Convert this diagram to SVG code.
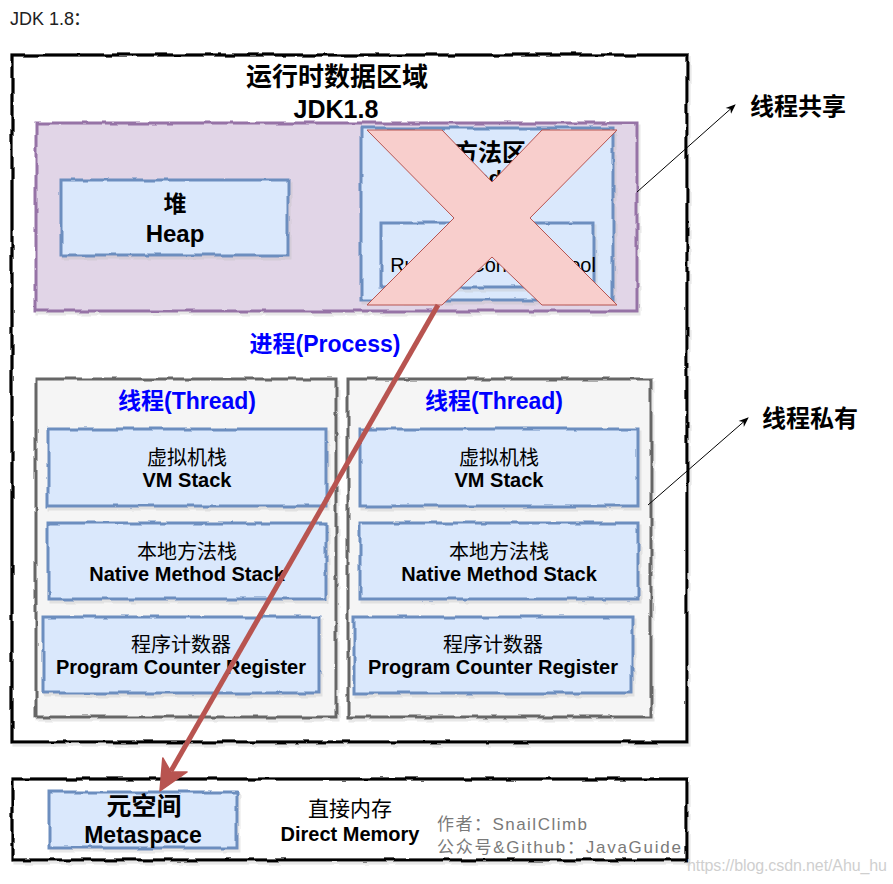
<svg xmlns="http://www.w3.org/2000/svg" width="893" height="884" viewBox="0 0 893 884">
<style>
text{font-family:"Liberation Sans","Noto Sans CJK SC",sans-serif;fill:#000;text-anchor:middle}
.b{font-weight:bold}
.blue{fill:#0000ff;font-weight:bold;font-size:23px}
.box{fill:#dae8fc;stroke:#6c8ebf;stroke-width:3}
.thr{fill:#f5f5f5;stroke:#666666;stroke-width:3}
.zh{font-size:20px}
.en{font-size:20px;font-weight:bold}
.note{font-size:17px;fill:#7a7a7a;text-anchor:start}
</style>
<defs>
<filter id="sk" x="-5%" y="-5%" width="112%" height="115%">
<feTurbulence type="fractalNoise" baseFrequency="0.05" numOctaves="2" seed="4" result="n"/>
<feDisplacementMap in="SourceGraphic" in2="n" scale="4" xChannelSelector="R" yChannelSelector="G" result="d"/>
<feOffset in="d" dx="2" dy="3" result="o"/>
<feColorMatrix in="o" type="matrix" values="0 0 0 0 0.5 0 0 0 0 0.5 0 0 0 0 0.5 0 0 0 0.35 0" result="s"/>
<feMerge><feMergeNode in="s"/><feMergeNode in="d"/></feMerge>
</filter>
<marker id="ah" markerWidth="10" markerHeight="10" refX="9" refY="5" orient="auto" markerUnits="userSpaceOnUse">
<path d="M0,1 L10,5 L0,9 L3,5 Z" fill="#000"/>
</marker>
</defs>

<text x="10" y="25" style="font-size:18px;text-anchor:start;fill:#222">JDK 1.8</text>
<text x="82" y="25" style="font-size:18px;fill:#222">：</text>

<g id="runtime-area">
<rect x="12" y="55" width="675" height="687" fill="#fff" stroke="#000" stroke-width="3.2" filter="url(#sk)"/>
<text class="b" x="337" y="86" style="font-size:26px">运行时数据区域</text>
<text class="b" x="336" y="118" style="font-size:25px">JDK1.8</text>
</g>

<g id="shared-area">
<rect x="36" y="123" width="601" height="188" fill="#e1d5e7" stroke="#9673a6" stroke-width="3" filter="url(#sk)"/>
</g>

<g id="heap">
<rect class="box" x="61" y="180" width="227" height="75" filter="url(#sk)"/>
<text class="b" x="175" y="212" style="font-size:23px">堆</text>
<text class="b" x="175" y="242" style="font-size:24px">Heap</text>
</g>

<g id="method-area">
<rect class="box" x="361" y="128" width="252" height="172" filter="url(#sk)"/>
<text class="b" x="490" y="161" style="font-size:24px">方法区</text>
<text class="b" x="490" y="186" style="font-size:22px">Method Area</text>
<rect class="box" x="381" y="223" width="213" height="64" filter="url(#sk)"/>
<text x="493" y="272" style="font-size:20px">Runtime Constant Pool</text>
</g>

<g id="removed-mark">
<polygon points="367,130 442,130 492,182 542,130 617,130 530,218 617,305 542,305 492,257 442,305 367,305 454,218" fill="#f8cecc" stroke="#b85450" stroke-width="1"/>
</g>

<text class="blue" x="325" y="352">进程(Process)</text>

<g id="thread-left">
<rect class="thr" x="36" y="379" width="300" height="338" filter="url(#sk)"/>
<text class="blue" x="187" y="409">线程(Thread)</text>
<rect class="box" x="48" y="429" width="278" height="77" filter="url(#sk)"/>
<text class="zh" x="187" y="465">虚拟机栈</text>
<text class="en" x="187" y="487">VM Stack</text>
<rect class="box" x="48" y="523" width="278" height="76" filter="url(#sk)"/>
<text class="zh" x="187" y="559">本地方法栈</text>
<text class="en" x="187" y="581">Native Method Stack</text>
<rect class="box" x="43" y="617" width="276" height="76" filter="url(#sk)"/>
<text class="zh" x="181" y="652">程序计数器</text>
<text class="en" x="181" y="674">Program Counter Register</text>
</g>

<g id="thread-right">
<rect class="thr" x="348" y="379" width="303" height="338" filter="url(#sk)"/>
<text class="blue" x="494" y="409">线程(Thread)</text>
<rect class="box" x="360" y="429" width="278" height="77" filter="url(#sk)"/>
<text class="zh" x="499" y="465">虚拟机栈</text>
<text class="en" x="499" y="487">VM Stack</text>
<rect class="box" x="360" y="523" width="278" height="76" filter="url(#sk)"/>
<text class="zh" x="499" y="559">本地方法栈</text>
<text class="en" x="499" y="581">Native Method Stack</text>
<rect class="box" x="354" y="617" width="278" height="76" filter="url(#sk)"/>
<text class="zh" x="493" y="652">程序计数器</text>
<text class="en" x="493" y="674">Program Counter Register</text>
</g>

<g id="native-memory">
<rect x="12" y="779" width="675" height="81" fill="#fff" stroke="#000" stroke-width="3.2" filter="url(#sk)"/>
<text x="350" y="816" style="font-size:21px">直接内存</text>
<text class="b" x="350" y="841" style="font-size:20px">Direct Memory</text>
<text class="note" x="437" y="830" textLength="150" lengthAdjust="spacing">作者：SnailClimb</text>
<text class="note" x="437" y="853" textLength="244" lengthAdjust="spacing">公众号&amp;Github：JavaGuide</text>
</g>

<g id="metaspace">
<rect class="box" x="49" y="792" width="188" height="56" filter="url(#sk)"/>
<text class="b" x="144" y="815" style="font-size:25px">元空间</text>
<text class="b" x="143" y="843" style="font-size:23px">Metaspace</text>
</g>

<g id="labels">
<text class="b" x="750" y="115" style="font-size:24px;text-anchor:start">线程共享</text>
<text class="b" x="762" y="427" style="font-size:24px;text-anchor:start">线程私有</text>
</g>

<g id="connectors">
<line x1="637" y1="192" x2="735" y2="105" stroke="#000" stroke-width="1" marker-end="url(#ah)"/>
<line x1="648" y1="505" x2="748" y2="418" stroke="#000" stroke-width="1" marker-end="url(#ah)"/>
<line x1="438" y1="305" x2="171" y2="771" stroke="#b85450" stroke-width="5"/>
<polygon points="160,791 162.8,758 170.9,771.9 187.1,772" fill="#b85450" stroke="#b85450" stroke-width="1.5" stroke-linejoin="round"/>
</g>

<text x="687" y="871" textLength="200" lengthAdjust="spacing" style="font-size:16px;fill:#cfcfcf;text-anchor:start">https://blog.csdn.net/Ahu_hu</text>
</svg>
